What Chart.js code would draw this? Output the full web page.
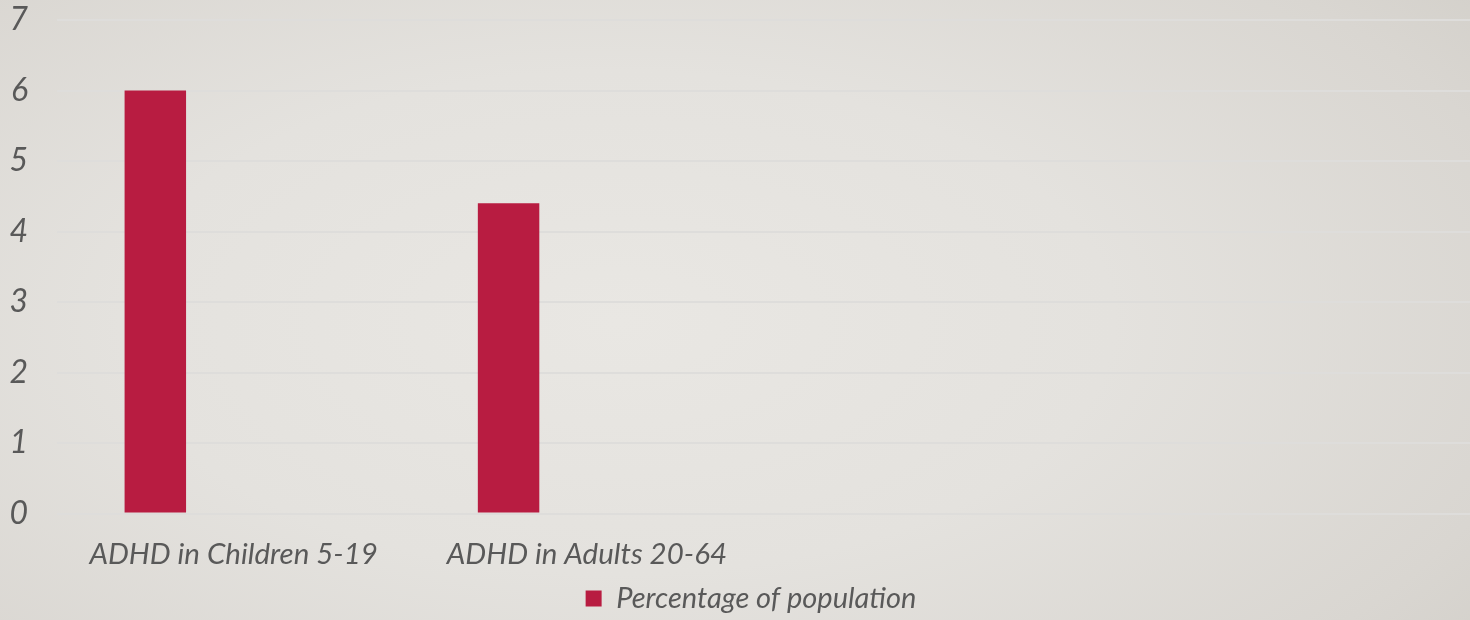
<!DOCTYPE html>
<html>
<head>
<meta charset="utf-8">
<script src="https://cdn.jsdelivr.net/npm/chart.js@4.4.1/dist/chart.umd.min.js"></script>
<style>
  html, body { margin: 0; padding: 0; }
  body {
    width: 1470px; height: 620px; overflow: hidden;
    background: radial-gradient(ellipse 75% 90% at 42% 52%, #e9e7e3 0%, #e4e2de 45%, #d9d6d1 85%, #d3d0ca 100%);
  }
  #wrap { position: relative; width: 1470px; height: 620px; }
</style>
</head>
<body>
<div id="wrap"><canvas id="c" width="1470" height="620"></canvas></div>
<script>
const categories = ['ADHD in Children 5-19', 'ADHD in Adults 20-64', '', ''];
const seriesName = 'Percentage of population';
const percentageValues = [6, 4.4, null, null];
const emptySeriesA = [null, null, null, null];
const emptySeriesB = [null, null, null, null];
const yTicks = [0, 1, 2, 3, 4, 5, 6, 7];

const FONT = 'Lato, "Open Sans", sans-serif';
const TEXT = '#595959';

const legendShift = {
  id: 'legendShift',
  afterLayout(chart) {
    if (chart.legend) {
      chart.legend.left += 16; chart.legend.right += 16;
      chart.legend.top += 3; chart.legend.bottom += 3;
    }
  }
};

new Chart(document.getElementById('c'), {
  type: 'bar',
  data: {
    labels: categories,
    datasets: [
      { label: seriesName, data: percentageValues, backgroundColor: '#b81c41', borderWidth: 0 },
      { label: '', data: emptySeriesA, backgroundColor: 'transparent' },
      { label: '', data: emptySeriesB, backgroundColor: 'transparent' }
    ]
  },
  plugins: [legendShift],
  options: {
    responsive: false,
    animation: false,
    datasets: { bar: { categoryPercentage: 0.665, barPercentage: 0.785 } },
    layout: { padding: { top: 20, right: 0, left: 0, bottom: 0 } },
    plugins: {
      tooltip: { enabled: false },
      legend: {
        position: 'bottom',
        labels: {
          filter: (item) => item.text !== '',
          boxWidth: 16, boxHeight: 16,
          color: TEXT,
          font: { family: FONT, size: 29, style: 'italic' },
          padding: 0
        }
      }
    },
    scales: {
      x: {
        grid: { display: false },
        border: { display: false },
        afterFit: (axis) => { axis.height -= 6; },
        ticks: {
          color: TEXT,
          font: { family: FONT, size: 29.5, style: 'italic' },
          padding: 15,
          maxRotation: 0,
          autoSkip: false
        }
      },
      y: {
        min: 0, max: 7,
        afterBuildTicks: (axis) => { axis.ticks = yTicks.map(v => ({ value: v })); },
        afterFit: (axis) => { axis.width = 57; axis.paddingTop = 0; axis.paddingBottom = 0; },
        grid: { color: '#dedddb', lineWidth: 2, drawTicks: false },
        border: { display: false },
        ticks: {
          color: TEXT,
          font: { family: FONT, size: 32, style: 'italic' },
          padding: 29
        }
      }
    }
  }
});
</script>
</body>
</html>
